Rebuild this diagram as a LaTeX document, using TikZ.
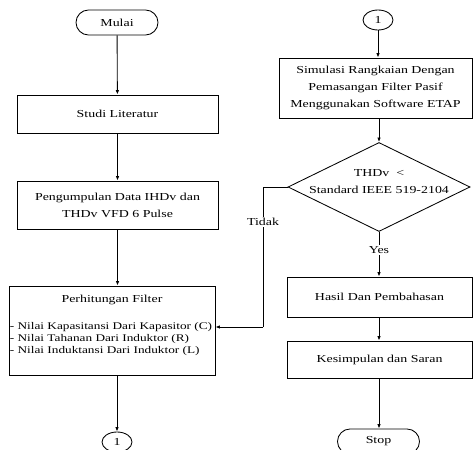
\documentclass[tikz,border=0pt]{standalone}
\usepackage{fontspec}
\setmainfont{Liberation Serif}[FakeStretch=1.3]
\usetikzlibrary{shapes.geometric,shapes.misc,arrows.meta}
\tikzstyle{process}=[draw, rectangle, align=center, inner sep=2pt]
\tikzstyle{terminal}=[draw, rounded rectangle, minimum width=82pt, minimum height=25pt, inner sep=0pt]
\tikzstyle{connector}=[draw, ellipse, minimum width=30pt, minimum height=20pt, inner sep=0pt]
\tikzstyle{decision}=[draw, diamond, minimum width=182pt, minimum height=89pt, inner sep=0pt]
\tikzstyle{plain}=[align=center, inner sep=0pt]
\tikzstyle{flow}=[-{Latex[length=4.5pt,width=3.5pt]}]
\tikzstyle{tag}=[fill=white, inner sep=1.5pt]

\begin{document}
\begin{tikzpicture}[x=1pt,y=-1pt,line width=0.85pt,font=\fontsize{10.7}{17}\selectfont]
    \useasboundingbox (0,0) rectangle (473,449);

    % Left column
    \node[terminal] (mulai) at (117,22.5) {Mulai};
    \node[process, minimum width=201pt, minimum height=38pt] (studi) at (117.5,114) {Studi Literatur};
    \node[process, minimum width=201pt, minimum height=48pt] (data) at (117.5,205) {Pengumpulan Data IHDv dan\\THDv VFD 6 Pulse};
    \node[process, minimum width=206pt, minimum height=89pt] (filter) at (112,330.5) {};
    \node[plain] (filtertitle) at (112,300) {Perhitungan Filter};
    \node[plain, anchor=west, align=left, font=\fontsize{10.2}{12}\selectfont] (filterlist) at (9.5,339)
        {- Nilai Kapasitansi Dari Kapasitor (C)\\- Nilai Tahanan Dari Induktor (R)\\- Nilai Induktansi Dari Induktor (L)};
    \node[connector] (conA) at (117,442) {1};

    % Right column
    \node[connector] (conB) at (378,20) {1};
    \node[process, minimum width=193pt, minimum height=60pt] (sim) at (375.5,88) {Simulasi Rangkaian Dengan\\Pemasangan Filter Pasif\\Menggunakan Software ETAP};
    \node[decision] (dec) at (379,187) {};
    \node[plain] (dectext) at (379,182) {THDv\ \ <\\Standard IEEE 519-2104};
    \node[process, minimum width=185pt, minimum height=40pt] (hasil) at (379.5,297) {Hasil Dan Pembahasan};
    \node[process, minimum width=185pt, minimum height=37pt] (kes) at (379.5,359.5) {Kesimpulan dan Saran};
    \node[terminal] (stop) at (378.5,441.5) {Stop};

    % Connectors
    \draw[flow] (mulai) -- (studi);
    \draw[flow] (studi) -- (data);
    \draw[flow] (data.south) -- (data.south |- filter.north);
    \draw[flow] (conA |- filter.south) -- (conA);
    \draw[flow] (conB) -- (conB |- sim.north);
    \draw[flow] (dec |- sim.south) -- (dec.north);
    \draw[flow] (dec.south) -- node[tag, pos=.4] (yes) {Yes} (dec |- hasil.north);
    \draw[flow] (dec |- hasil.south) -- (dec |- kes.north);
    \draw[flow] (dec |- kes.south) -- (dec |- stop.north);

    % Tidak loop
    \coordinate (tk1) at (263,187);
    \coordinate (tk2) at (263,327);
    \draw (dec.west) -- (tk1) -- node[tag, pos=.25] (tidak) {Tidak} (tk2);
    \draw[flow] (tk2) -- (filter.east |- tk2);
\end{tikzpicture}
\end{document}
